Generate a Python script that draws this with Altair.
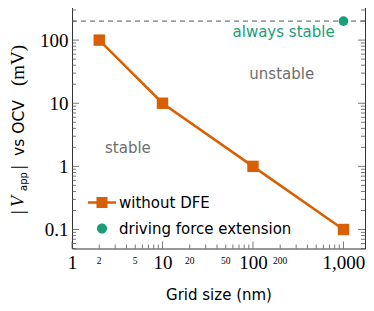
import altair as alt
import pandas as pd

# ---- data ----
grid_nm = [2, 10, 100, 1000]
v_app_mv = [100, 10, 1, 0.1]
dfe_grid_nm = [1000]
dfe_v_mv = [200]
stability_limit_mv = [200]

series_names = ["without DFE", "driving force extension"]
series_colors = ["#d95f02", "#1b9e77"]

ann_text = ["always stable", "unstable", "stable"]
ann_x = [218, 208, 4.15]
ann_y = [134, 28.9, 1.94]
ann_color = ["#1b9e77", "#6e6e6e", "#6e6e6e"]

x_major = [1, 10, 100, 1000]
x_minor = [2, 3, 4, 5, 6, 7, 8, 9, 20, 30, 40, 50, 60, 70, 80, 90,
           200, 300, 400, 500, 600, 700, 800, 900]
x_minor_labels = [2, 5, 20, 50, 200]
y_major = [0.1, 1, 10, 100]
y_minor = [0.05, 0.06, 0.07, 0.08, 0.09, 0.2, 0.3, 0.4, 0.5, 0.6, 0.7, 0.8, 0.9,
           2, 3, 4, 5, 6, 7, 8, 9, 20, 30, 40, 50, 60, 70, 80, 90, 200, 300, 400]

# y-axis title pieces
ytitle_parts = ["|", "V", "app", "|", "vs OCV", "(mV)"]

W, H = 293, 248
SERIF = "Liberation Serif"
SANS = "DejaVu Sans"

xs = alt.Scale(type="log", domain=[1, 1730], nice=False)
ys = alt.Scale(type="log", domain=[0.05, 424], nice=False)

x_axis = alt.Axis(
    values=x_major, format=",", ticks=False, domain=False, grid=False,
    labelFont=SERIF, labelFontSize=19, labelColor="black", labelPadding=5,
    labelFlush=False, labelOverlap=False,
    title="Grid size (nm)", titleFont=SANS, titleFontSize=15,
    titleFontWeight="normal", titleColor="black", titlePadding=15)
y_axis = alt.Axis(
    values=y_major, format="~g", ticks=False, domain=False, grid=False,
    labelFont=SERIF, labelFontSize=19, labelColor="black", labelPadding=4,
    labelFlush=False, labelOverlap=False, title=None)

def X(f="x"):
    return alt.X(f"{f}:Q", scale=xs, axis=x_axis)

def Y(f="y"):
    return alt.Y(f"{f}:Q", scale=ys, axis=y_axis)

main_df = pd.DataFrame({"x": grid_nm, "y": v_app_mv, "series": series_names[0]})
dfe_df = pd.DataFrame({"x": dfe_grid_nm, "y": dfe_v_mv, "series": series_names[1]})
all_pts = pd.concat([main_df, dfe_df])
ann_df = pd.DataFrame({"t": ann_text, "x": ann_x, "y": ann_y, "c": ann_color})
xmaj_df = pd.DataFrame({"x": x_major})
xmin_df = pd.DataFrame({"x": x_minor})
xlab_df = pd.DataFrame({"x": x_minor_labels, "t": [str(v) for v in x_minor_labels]})
ymaj_df = pd.DataFrame({"y": y_major})
ymin_df = pd.DataFrame({"y": y_minor})
lim_df = pd.DataFrame({"y": stability_limit_mv})

tick_color = "#555555"

def xticks(df, length):
    base = alt.Chart(df)
    bot = base.mark_rule(color=tick_color, strokeWidth=0.8).encode(
        x=X(), y=alt.value(H), y2=alt.value(H - length))
    top = base.mark_rule(color=tick_color, strokeWidth=0.8).encode(
        x=X(), y=alt.value(0), y2=alt.value(length))
    return [bot, top]

def yticks(df, length):
    base = alt.Chart(df)
    lft = base.mark_rule(color=tick_color, strokeWidth=0.8).encode(
        y=Y(), x=alt.value(0), x2=alt.value(length))
    rgt = base.mark_rule(color=tick_color, strokeWidth=0.8).encode(
        y=Y(), x=alt.value(W), x2=alt.value(W - length))
    return [lft, rgt]

line = alt.Chart(main_df).mark_line(color="#d95f02", strokeWidth=2.5).encode(x=X(), y=Y())

squares = alt.Chart(main_df).mark_point(
    shape="square", filled=True, color="#d95f02", size=130, opacity=1).encode(x=X(), y=Y())

dfe_pt = alt.Chart(dfe_df).mark_point(
    shape="circle", filled=True, color="#1b9e77", size=95, opacity=1).encode(x=X(), y=Y())

limit = alt.Chart(lim_df).mark_rule(color="#555555", strokeWidth=1, strokeDash=[5, 4]).encode(y=Y())

ann = alt.Chart(ann_df).mark_text(font=SANS, fontSize=15, baseline="middle", align="center").encode(
    x=X(), y=Y(), text="t:N", color=alt.Color("c:N", scale=None))

minor_lab = alt.Chart(xlab_df).mark_text(font=SERIF, fontSize=9.5, baseline="top", align="center").encode(
    x=X(), y=alt.value(H + 7), text="t:N")

# y-axis title, composed of serif / sans pieces (rotated text)
TX = -48  # baseline x, relative to plot left
title_specs = [  # (piece index, font, size, style, start y (image), x shift)
    (0, SERIF, 18, "normal", 214, 0),
    (1, SERIF, 18, "italic", 207, 0),
    (2, SANS, 10, "normal", 191, 3),
    (3, SERIF, 18, "normal", 169, 0),
    (4, SANS, 15.5, "normal", 156, 0),
    (5, SERIF, 19, "normal", 86, 0),
]
title_layers = []
for idx, font, size, style, ystart, dx in title_specs:
    title_layers.append(
        alt.Chart(pd.DataFrame({"t": [ytitle_parts[idx]]})).mark_text(
            font=font, fontSize=size, fontStyle=style, angle=270, align="left",
            baseline="alphabetic", color="black").encode(
            text="t:N", x=alt.value(TX + dx), y=alt.value(ystart - 0.5)))

# legend carried by a layer that draws nothing (its rows are filtered out)
sq_path = "M-1.17,-0.1H1.17V0.1H-1.17Z M-0.46,-0.46H0.46V0.46H-0.46Z"
circ_path = "M-0.42,0A0.42,0.42 0 1,0 0.42,0A0.42,0.42 0 1,0 -0.42,0Z"
legend_layer = alt.Chart(all_pts).transform_filter("datum.x < 0").mark_point(filled=True, opacity=1).encode(
    x=X(), y=Y(),
    color=alt.Color("series:N", scale=alt.Scale(domain=series_names, range=series_colors),
                    legend=alt.Legend(title=None, orient="none", legendX=18, legendY=190,
                                      padding=0, symbolSize=576, labelFont=SANS, labelFontSize=15,
                                      labelColor="black", labelOffset=5, rowPadding=6,
                                      labelLimit=400, symbolStrokeWidth=0, symbolOpacity=1)),
    shape=alt.Shape("series:N", scale=alt.Scale(domain=series_names, range=[sq_path, circ_path])),
)

layers = (xticks(xmaj_df, 7) + xticks(xmin_df, 4) + yticks(ymaj_df, 7) + yticks(ymin_df, 4)
          + [limit, line, squares, dfe_pt, ann, minor_lab] + title_layers + [legend_layer])

# svg kept at 358 x 295 so the page (8px margins) does not overflow the window
chart = alt.layer(*layers).properties(
    width=W, height=H,
    background="white",
    autosize=alt.AutoSizeParams(type="none"),
    padding={"left": 64, "top": -7.5, "right": 1, "bottom": 54.5},
).configure_view(stroke="#333333", strokeWidth=1)

chart.save("out.html", embed_options={"renderer": "svg", "actions": False})
